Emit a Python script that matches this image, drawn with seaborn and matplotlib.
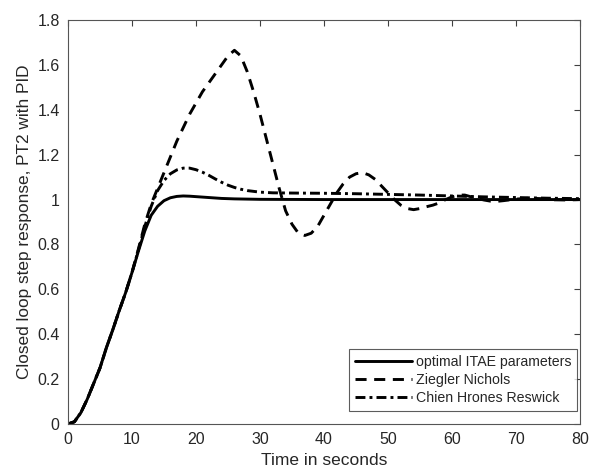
import matplotlib

matplotlib.use("Agg")
import matplotlib.pyplot as plt
import pandas as pd
import seaborn as sns

# values
itae_t = [0, 1, 2, 3, 4, 5, 6, 7, 8, 9, 10, 11, 12, 13, 14, 15, 16, 17, 18, 19, 20,
          22, 24, 26, 28, 30, 40, 50, 60, 70, 80]
itae_y = [0, 0.01, 0.05, 0.11, 0.18, 0.25, 0.34, 0.42, 0.505, 0.585, 0.675, 0.77, 0.86,
          0.93, 0.97, 0.995, 1.008, 1.014, 1.016, 1.015, 1.013,
          1.009, 1.005, 1.003, 1.002, 1.001, 1.0, 1.0, 1.0, 1.0, 1.0]

zn_t = [0, 1, 2, 3, 4, 5, 6, 7, 8, 9, 10, 11, 12, 13, 14, 15, 16, 17, 18, 19, 20,
        21, 22, 23, 24, 25, 26, 27, 28, 29, 30, 31, 32, 33, 34, 35, 36, 37, 38, 39, 40,
        41, 42, 43, 44, 45, 46, 47, 48, 49, 50, 51, 52, 53, 54, 55, 56, 57, 58, 59, 60,
        61, 62, 63, 64, 65, 66, 67, 68, 70, 72, 74, 76, 78, 80]
zn_y = [0, 0.01, 0.05, 0.11, 0.18, 0.25, 0.34, 0.42, 0.505, 0.585, 0.675, 0.78, 0.89,
        0.98, 1.05, 1.12, 1.19, 1.26, 1.32, 1.38, 1.43,
        1.48, 1.52, 1.56, 1.60, 1.64, 1.665, 1.64, 1.57, 1.48, 1.38, 1.27, 1.16, 1.05, 0.95,
        0.89, 0.85, 0.84, 0.85, 0.88, 0.93,
        0.98, 1.03, 1.07, 1.10, 1.115, 1.12, 1.11, 1.09, 1.06, 1.03, 1.0, 0.975, 0.96, 0.955,
        0.96, 0.968, 0.975, 0.985, 1.0, 1.012,
        1.02, 1.02, 1.012, 1.005, 0.998, 0.993, 0.992, 0.995, 1.002, 1.006, 1.004, 0.999,
        0.998, 1.0]

chr_t = [0, 1, 2, 3, 4, 5, 6, 7, 8, 9, 10, 11, 12, 13, 14, 15, 16, 17, 18, 19, 20,
         21, 22, 23, 24, 25, 26, 27, 28, 30, 32, 35, 40, 45, 50, 55, 60, 65, 70, 75, 80]
chr_y = [0, 0.01, 0.05, 0.11, 0.18, 0.25, 0.34, 0.42, 0.505, 0.585, 0.675, 0.775, 0.88,
         0.97, 1.04, 1.085, 1.115, 1.132, 1.14, 1.14, 1.133,
         1.122, 1.108, 1.092, 1.077, 1.064, 1.054, 1.046, 1.04, 1.033, 1.03, 1.029, 1.028,
         1.026, 1.023, 1.02, 1.016, 1.012, 1.009, 1.006, 1.004]

series = [
    ("optimal ITAE parameters", itae_t, itae_y, "-"),
    ("Ziegler Nichols", zn_t, zn_y, (0, (3.8, 2.6))),
    ("Chien Hrones Reswick", chr_t, chr_y, (0, (3.4, 1.4, 1.0, 1.4))),
]

sns.set_theme(style="white")
plt.rcParams["font.family"] = ["Liberation Sans", "DejaVu Sans"]

fig = plt.figure(figsize=(5.98, 4.72), dpi=100)
ax = fig.add_axes([68 / 598, 1 - 424 / 472, 512 / 598, 404 / 472])

for label, t, y, ls in series:
    df = pd.DataFrame({"t": t, "y": y})
    sns.lineplot(data=df, x="t", y="y", ax=ax, color="black", linewidth=2.1,
                 linestyle=ls, label=label, sort=False)

ax.set_xlim(0, 80)
ax.set_ylim(0, 1.8)
ax.set_xticks(range(0, 81, 10))
ax.set_yticks([0, 0.2, 0.4, 0.6, 0.8, 1.0, 1.2, 1.4, 1.6, 1.8])
ax.set_yticklabels(["0", "0.2", "0.4", "0.6", "0.8", "1", "1.2", "1.4", "1.6", "1.8"])
ax.tick_params(direction="in", length=4, width=0.8, colors="#404040", labelsize=11.5,
               top=True, right=True, labelcolor="#262626", pad=6)
for sp in ax.spines.values():
    sp.set_color("#555555")
    sp.set_linewidth(0.8)

ax.set_xlabel("Time in seconds", fontsize=12.5, color="#262626", labelpad=4)
ax.set_ylabel("Closed loop step response, PT2 with PID", fontsize=12.4, color="#262626",
              labelpad=4)

leg = ax.legend(loc="lower right", fontsize=10.2, frameon=True, fancybox=False,
                handlelength=4.0, handletextpad=0.3, borderpad=0.4, labelspacing=0.3,
                borderaxespad=0, bbox_to_anchor=(0.994, 0.032))
leg.get_frame().set_edgecolor("#333333")
leg.get_frame().set_linewidth(0.8)

fig.savefig("out.png", dpi=100, facecolor="white")
